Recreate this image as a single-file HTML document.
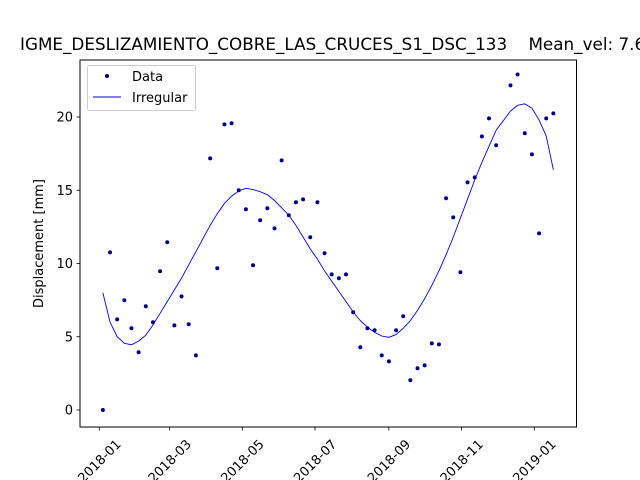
<!DOCTYPE html>
<html><head><meta charset="utf-8"><style>
html,body{margin:0;padding:0;background:#fff;}
svg{display:block;font-family:"DejaVu Sans","Liberation Sans",sans-serif;}
</style></head><body>
<svg id="chart" width="640" height="480" viewBox="0 0 640 480">
<rect width="640" height="480" fill="#fff"/>
<text x="20" y="50" font-size="16.8" text-anchor="start" xml:space="preserve">IGME_DESLIZAMIENTO_COBRE_LAS_CRUCES_S1_DSC_133    Mean_vel: 7.6</text>
<g id="plot"></g>
</svg>
<script>
// day offsets from 2018-01-01
const dataDays=[3,9,15,21,27,33,39,45,51,57,63,69,75,81,93,99,105,111,117,123,129,135,141,147,153,159,165,171,177,183,189,195,201,207,213,219,225,231,237,243,249,255,261,267,273,279,285,291,297,303,309,315,321,327,333,345,351,357,363,369,375,381];
const dataValues=[0.0,10.76,6.19,7.49,5.58,3.94,7.08,5.99,9.47,11.45,5.78,7.76,5.85,3.73,17.18,9.68,19.5,19.57,15.0,13.7,9.88,12.95,13.77,12.4,17.04,13.29,14.18,14.38,11.79,14.18,10.7,9.26,8.99,9.26,6.67,4.28,5.58,5.44,3.73,3.32,5.44,6.4,2.03,2.85,3.05,4.55,4.48,14.45,13.15,9.4,15.54,15.88,18.68,19.91,18.07,22.16,22.9,18.89,17.45,12.06,19.91,20.25];
const fitDays=[3,9,15,21,27,33,39,45,51,57,63,69,75,81,87,93,99,105,111,117,123,129,135,141,147,153,159,165,171,177,183,189,195,201,207,213,219,225,231,237,243,249,255,261,267,273,279,285,291,297,303,309,315,321,327,333,345,351,357,363,369,375,381];
const fitValues=[8.0,6.0,5.0,4.55,4.45,4.7,5.1,5.8,6.6,7.4,8.2,9.0,9.9,10.8,11.7,12.6,13.4,14.1,14.6,14.95,15.13,15.05,14.9,14.7,14.3,13.8,13.3,12.6,11.8,11.0,10.3,9.5,8.8,8.1,7.4,6.7,6.1,5.65,5.3,5.05,4.96,5.15,5.58,6.1,6.8,7.6,8.5,9.5,10.6,11.8,13.1,14.4,15.7,16.9,18.0,19.1,20.4,20.8,20.9,20.6,19.8,18.7,16.4];
const yTicks=[0,5,10,15,20];
const xTickDays=[0,59,120,181,243,304,365];
const xTickLabels=["2018-01","2018-03","2018-05","2018-07","2018-09","2018-11","2019-01"];

const L=80,R=576.5,T=60,B=427;
const xs=d=>99.3+d*(435/365);
const ys=v=>410-v*14.65;
const NS="http://www.w3.org/2000/svg";
const g=document.getElementById('plot');
function mk(tag,attrs){const e=document.createElementNS(NS,tag);for(const k in attrs)e.setAttribute(k,attrs[k]);g.appendChild(e);return e;}

const pts=fitDays.map((d,i)=>xs(d).toFixed(2)+','+ys(fitValues[i]).toFixed(2)).join(' ');
const line=mk('polyline',{points:pts,fill:'none',stroke:'#0000ff','stroke-width':0.9,'stroke-linejoin':'round'});


dataDays.forEach((d,i)=>{
  const c=mk('circle',{cx:xs(d),cy:ys(dataValues[i]),r:2,fill:'#00008b'});
  
  
});
const fr=mk('rect',{x:L,y:T,width:R-L,height:B-T,fill:'none',stroke:'#000','stroke-width':1});


yTicks.forEach(v=>{
  const y=ys(v);
  const t=mk('line',{x1:L-3.5,x2:L,y1:y,y2:y,stroke:'#000','stroke-width':0.8});
  
  
  const tx=mk('text',{x:L-7,y:y+4.5,'font-size':13,'text-anchor':'end'});
  tx.textContent=v;
  
  
});
xTickDays.forEach((d,i)=>{
  const x=xs(d);
  const t=mk('line',{x1:x,x2:x,y1:B,y2:B+3.5,stroke:'#000','stroke-width':0.8});
  
  
  const cy=B+34;
  const tx=mk('text',{x:x,y:cy+4.5,'font-size':13,'text-anchor':'middle',transform:`rotate(-45 ${x} ${cy})`});
  tx.textContent=xTickLabels[i];
  
  
});
const yt=mk('text',{x:0,y:0,'font-size':13,'text-anchor':'middle',transform:`translate(43 ${(T+B)/2}) rotate(-90)`});
yt.textContent='Displacement [mm]';


const lg=mk('rect',{x:87.5,y:65.5,width:108,height:45,rx:2,fill:'#fff',stroke:'#ccc','stroke-width':1});


const ld=mk('circle',{cx:107,cy:76,r:2,fill:'#00008b'});


const l1=mk('text',{x:132,y:81,'font-size':13});
l1.textContent='Data';


const ll=mk('line',{x1:93,x2:121,y1:97,y2:97,stroke:'#0000ff','stroke-width':0.9});


const l2=mk('text',{x:132,y:102,'font-size':13});
l2.textContent='Irregular';


</script>
</body></html>
